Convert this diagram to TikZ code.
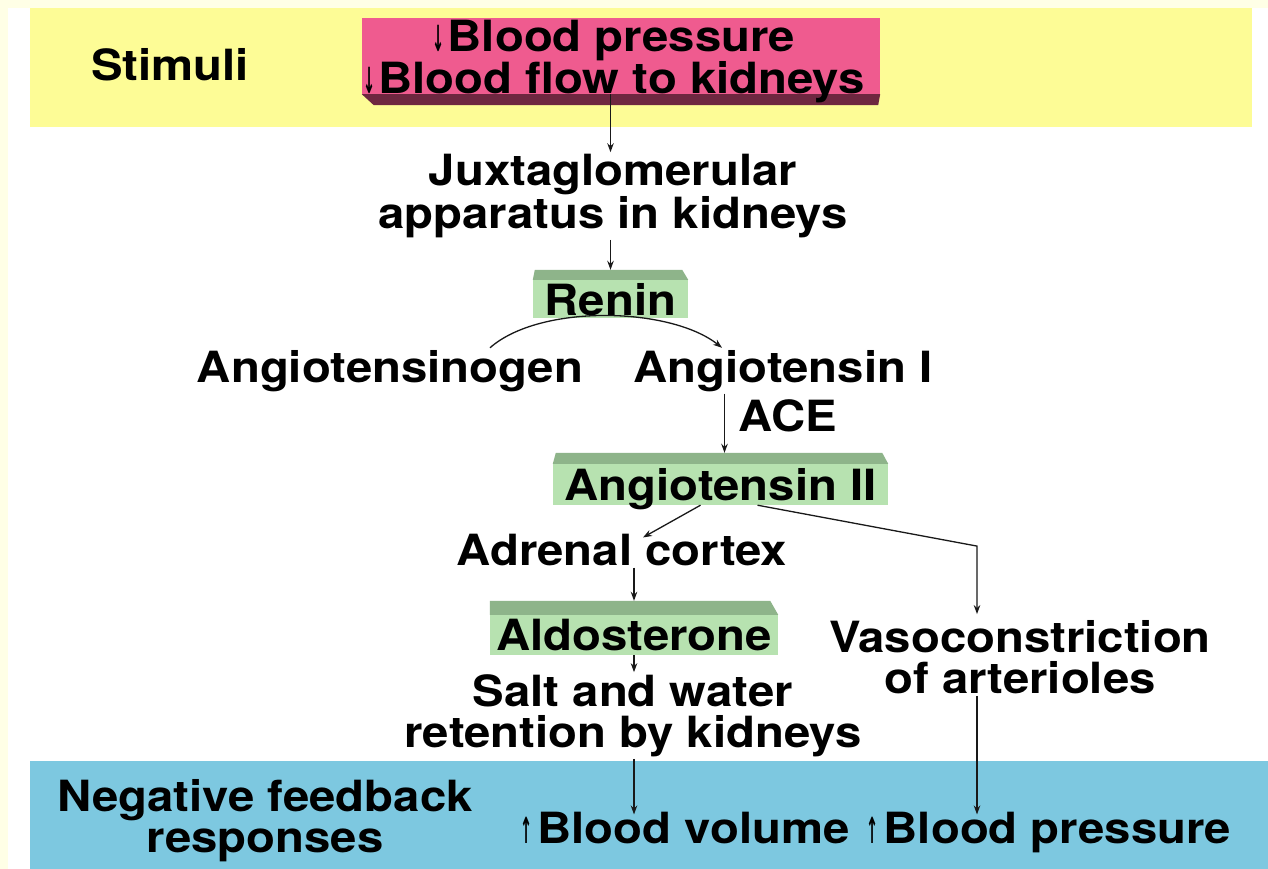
\documentclass[tikz,border=0pt]{standalone}
\usepackage{fontspec}
\usepackage{graphicx}
\setmainfont{TeX Gyre Heros}[FakeStretch=1.1]
\newfontfamily\arrowfont{DejaVu Sans}
\usetikzlibrary{arrows.meta,calc}
\definecolor{pale}{HTML}{FFFFE6}
\definecolor{bandyellow}{HTML}{FDFC96}
\definecolor{bandblue}{HTML}{7DC8E0}
\definecolor{boxpink}{HTML}{EF5B8F}
\definecolor{pinkshadow}{HTML}{6E2740}
\definecolor{boxgreen}{HTML}{B7E2B0}
\definecolor{greentop}{HTML}{8EB48A}
\newcommand\bigfnt{\fontsize{43}{41}\selectfont\bfseries}
\newcommand\myDown{\scalebox{0.4}[1]{\arrowfont\fontsize{36}{36}\selectfont ↓}\kern3pt}
\newcommand\myUp{\scalebox{0.4}[1]{\arrowfont\fontsize{36}{36}\selectfont ↑}\kern5pt}
\tikzset{
  txt/.style={font=\bigfnt, inner sep=2pt, align=center},
  ltxt/.style={font=\bigfnt, inner sep=2pt, anchor=base},
  gbox/.style={fill=boxgreen, inner sep=0pt, text depth=0pt, font=\bigfnt},
  arr/.style={draw=black!90, line width=1.3pt, -{Stealth[length=9pt,width=6.5pt]}},
}
\begin{document}
\begin{tikzpicture}[x=1pt,y=-1pt]
\useasboundingbox (0,0) rectangle (1268,869);
% backgrounds
\fill[pale] (0,0) rectangle (1268,869);
\fill[white] (8,8) rectangle (1268,869);
\fill[bandyellow] (30,8) rectangle (1252,127);
\fill[bandblue] (30,761) rectangle (1268,869);
% stimulus box
\node[fill=boxpink, minimum width=518pt, minimum height=76pt, inner sep=0pt] (stimbox) at (621,56) {};
\fill[pinkshadow] (stimbox.south west) -- (stimbox.south east) -- ++(-2,11) -- ($(stimbox.south west)+(12,11)$) -- cycle;
\node[txt] (stimtext) at (614,61.5) {\myDown Blood pressure\\\myDown Blood flow to kidneys};
% labels
\node[ltxt] (stim) at (170,81) {Stimuli};
\node[txt] (juxta) at (613,196) {Juxtaglomerular\\apparatus in kidneys};
\node[gbox, minimum width=155pt, minimum height=38pt] (renin) at (610.5,299) {Renin};
\fill[greentop] (renin.north west) -- ++(2,-10) -- ($(renin.north east)+(-6,-10)$) -- (renin.north east) -- cycle;
\node[ltxt] (agen) at (390,382) {Angiotensinogen};
\node[ltxt] (ang1) at (783,382) {Angiotensin I};
\node[ltxt] (ace) at (788,431) {ACE};
\node[gbox, minimum width=335pt, minimum height=41pt] (ang2) at (720.5,484.5) {Angiotensin II};
\fill[greentop] (ang2.north west) -- ++(3,-11) -- ($(ang2.north east)+(-6,-11)$) -- (ang2.north east) -- cycle;
\node[ltxt] (adrenal) at (622,565) {Adrenal cortex};
\node[gbox, minimum width=288pt, minimum height=40pt] (aldo) at (634,635) {Aldosterone};
\fill[greentop] (aldo.north west) -- ++(0,-14) -- ($(aldo.north east)+(-8,-14)$) -- (aldo.north east) -- cycle;
\node[txt] (salt) at (633,715.5) {Salt and water\\retention by kidneys};
\node[txt] (vaso) at (1020,657) {Vasoconstriction\\of arterioles};
\node[txt] (neg) at (265,821) {Negative feedback\\responses};
\node[ltxt] (bvol) at (685,843) {\myUp Blood volume};
\node[ltxt] (bpress) at (1049,843) {\myUp Blood pressure};
% connectors
\draw[arr] (stimbox.south -| renin) -- (juxta.north -| renin);
\draw[arr] (juxta.south -| renin) -- ($(renin.north)+(0,-10)$);
\draw[arr] ($(agen.north)+(100,0)$) .. controls +(50,-44) and +(-52,-41) .. ($(ang1.north)+(-61,0)$);
\coordinate (aceT) at ($(ang2.north)+(4,-11)$);
\draw[arr] (ang1.south -| aceT) -- (aceT);
\draw[arr] ($(ang2.south)+(-20,0)$) -- ($(adrenal.north)+(21,6)$);
\coordinate (vT) at ($(vaso.north)+(-43,-4)$);
\draw[arr] ($(ang2.south)+(37,0)$) -- ($(vT)+(0,-68)$) -- (vT);
\draw[arr] (adrenal.south -| aldo) -- ($(aldo.north)+(0,-14)$);
\draw[arr] (aldo.south) -- (salt.north -| aldo);
\draw[arr] (salt.south -| aldo) -- ($(bvol.north -| aldo)+(0,5)$);
\draw[arr] (vaso.south -| vT) -- ($(bpress.north -| vT)+(0,5)$);
\end{tikzpicture}
\end{document}
